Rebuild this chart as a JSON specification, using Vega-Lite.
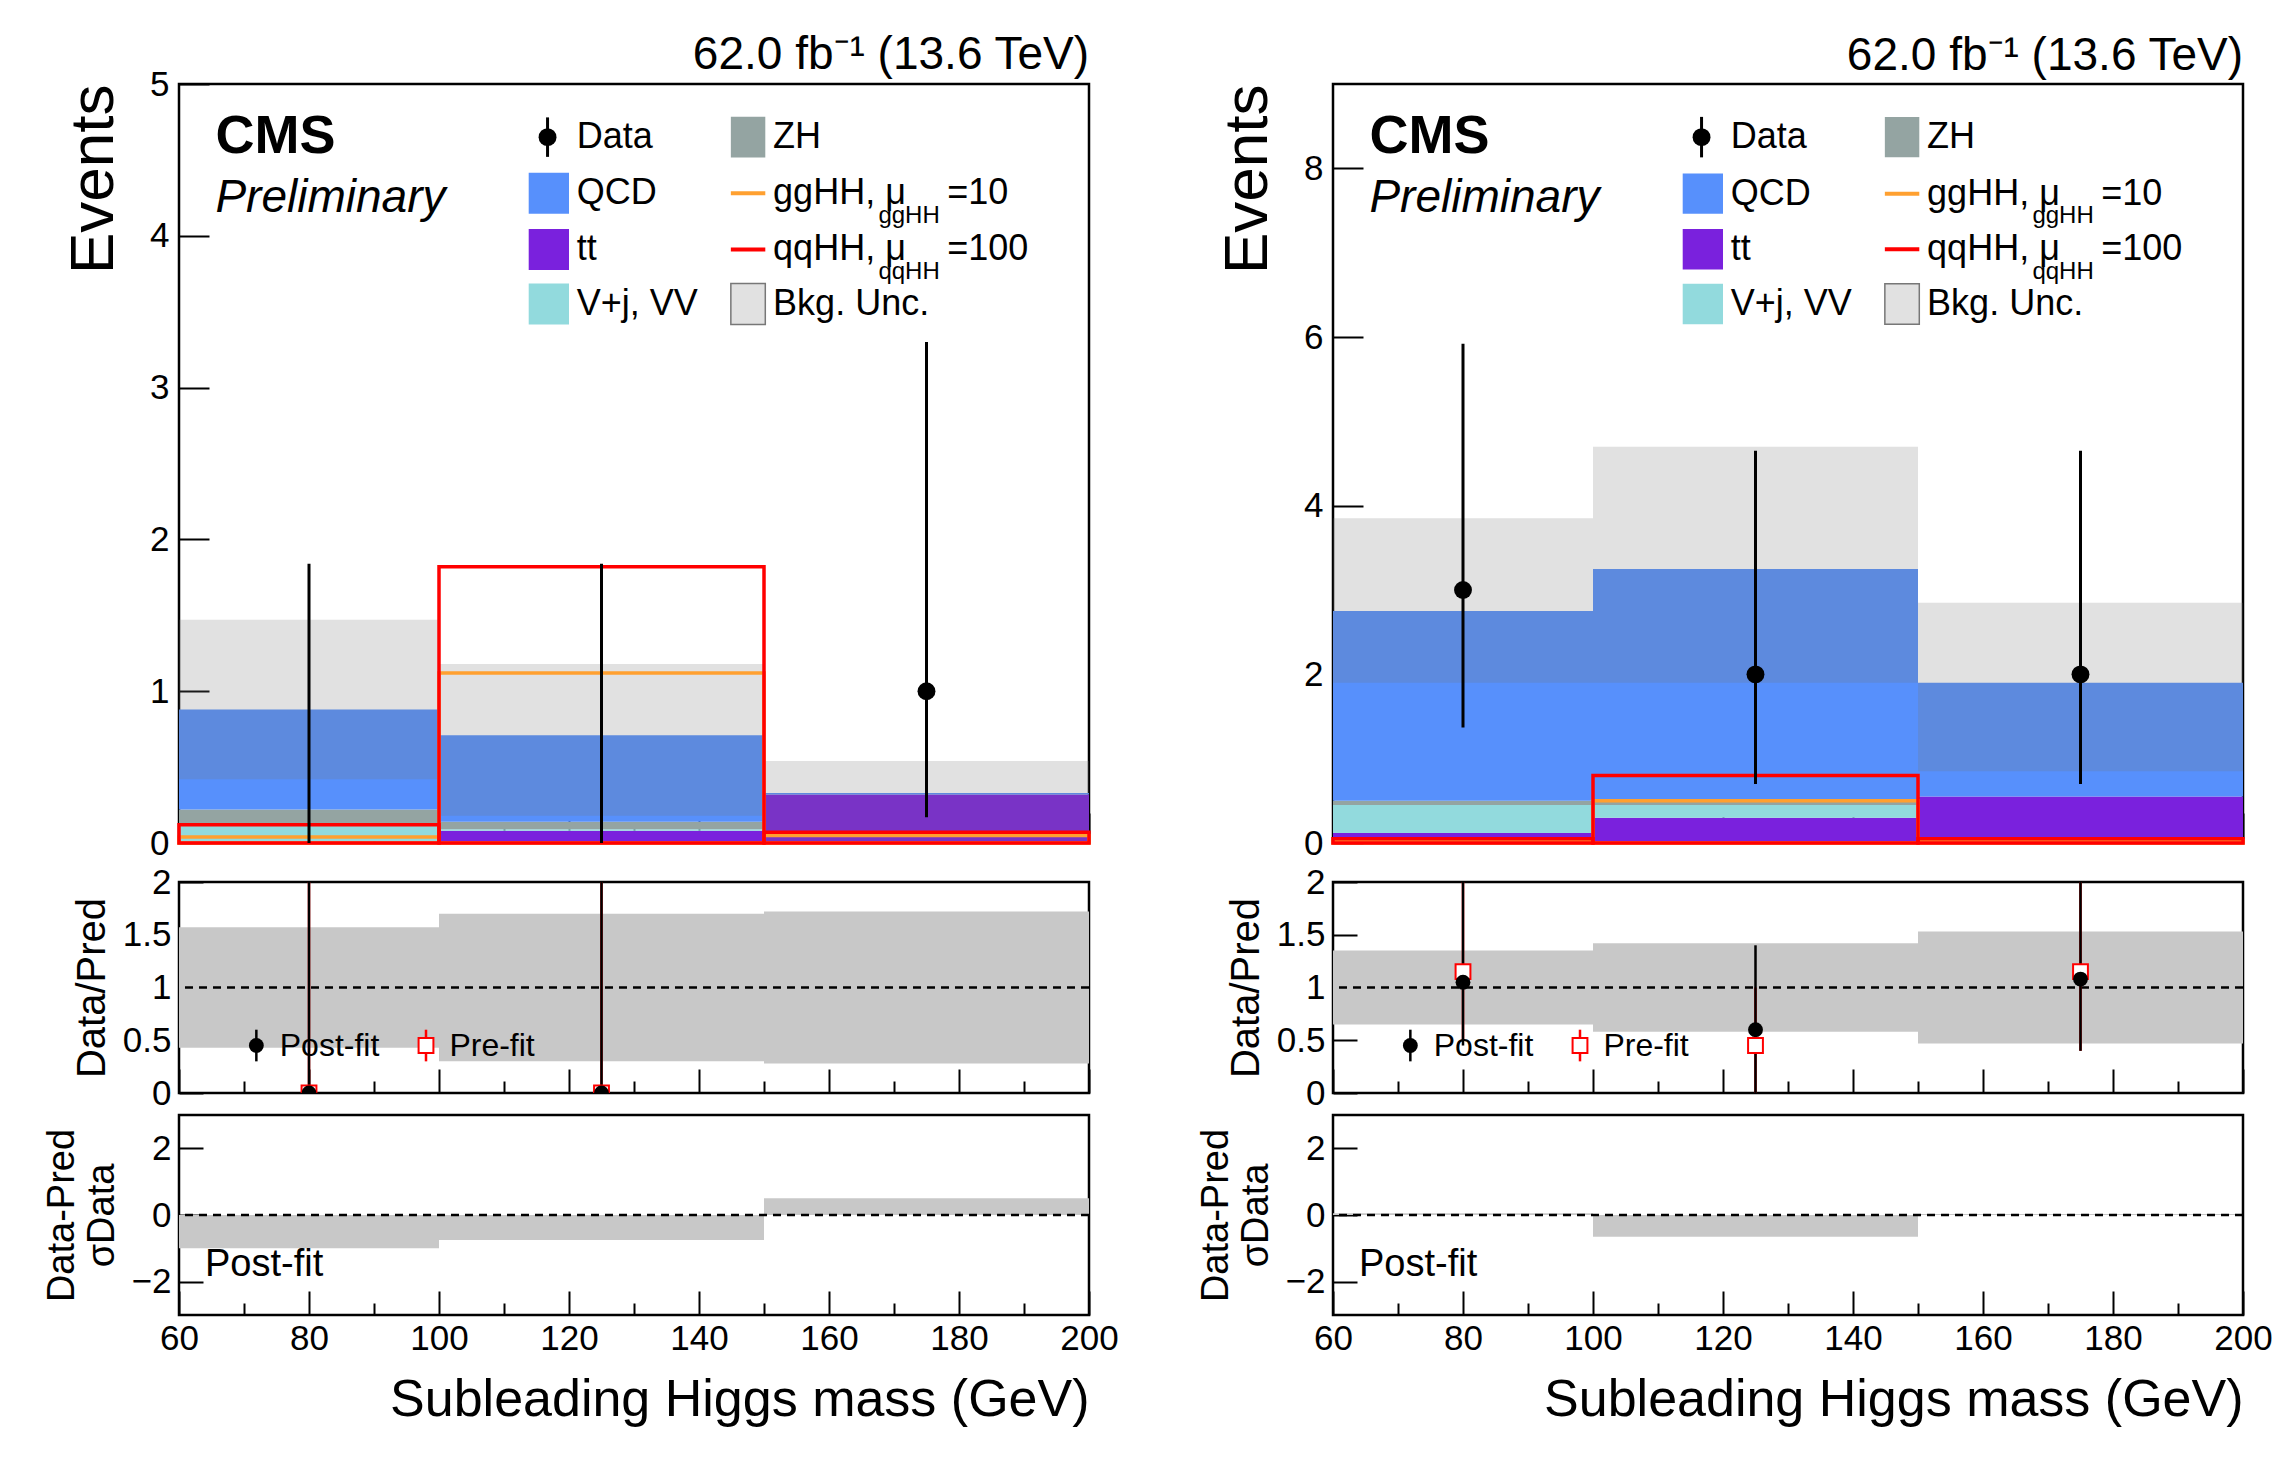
{
  "$schema": "https://vega.github.io/schema/vega-lite/v6.json",
  "background": "white",
  "padding": {"left": 41, "top": 30, "right": 20, "bottom": 5},
  "spacing": 75,
  "config": {
    "font": "Liberation Sans",
    "view": {"stroke": "black", "strokeWidth": 2.5},
    "axis": {"grid": false, "labelFont": "Liberation Sans", "titleFont": "Liberation Sans", "labelFontSize": 35, "labelColor": "black", "titleColor": "black", "titleFontWeight": "normal", "tickColor": "black", "tickWidth": 2, "tickSize": -16, "labelPadding": 26, "domain": false, "labelOverlap": false, "labelFlush": false, "format": "~g"},
    "title": {"font": "Liberation Sans", "fontWeight": "normal", "fontSize": 46, "anchor": "end", "frame": "group"}
  },
  "datasets": {
    "one": [{"a": 1}],
    "stack": [
      {"p": "L", "lo": 60, "hi": 100, "proc": "tt", "o": 1, "v": 0.01},
      {"p": "L", "lo": 60, "hi": 100, "proc": "V+j, VV", "o": 2, "v": 0.11},
      {"p": "L", "lo": 60, "hi": 100, "proc": "ZH", "o": 3, "v": 0.1},
      {"p": "L", "lo": 60, "hi": 100, "proc": "QCD", "o": 4, "v": 0.66},
      {"p": "L", "lo": 100, "hi": 150, "proc": "tt", "o": 1, "v": 0.08},
      {"p": "L", "lo": 100, "hi": 150, "proc": "V+j, VV", "o": 2, "v": 0.01},
      {"p": "L", "lo": 100, "hi": 150, "proc": "ZH", "o": 3, "v": 0.05},
      {"p": "L", "lo": 100, "hi": 150, "proc": "QCD", "o": 4, "v": 0.57},
      {"p": "L", "lo": 150, "hi": 200, "proc": "tt", "o": 1, "v": 0.32},
      {"p": "L", "lo": 150, "hi": 200, "proc": "QCD", "o": 4, "v": 0.01},
      {"p": "R", "lo": 60, "hi": 100, "proc": "tt", "o": 1, "v": 0.12},
      {"p": "R", "lo": 60, "hi": 100, "proc": "V+j, VV", "o": 2, "v": 0.33},
      {"p": "R", "lo": 60, "hi": 100, "proc": "ZH", "o": 3, "v": 0.05},
      {"p": "R", "lo": 60, "hi": 100, "proc": "QCD", "o": 4, "v": 2.25},
      {"p": "R", "lo": 100, "hi": 150, "proc": "tt", "o": 1, "v": 0.3},
      {"p": "R", "lo": 100, "hi": 150, "proc": "V+j, VV", "o": 2, "v": 0.15},
      {"p": "R", "lo": 100, "hi": 150, "proc": "ZH", "o": 3, "v": 0.05},
      {"p": "R", "lo": 100, "hi": 150, "proc": "QCD", "o": 4, "v": 2.75},
      {"p": "R", "lo": 150, "hi": 200, "proc": "tt", "o": 1, "v": 0.55},
      {"p": "R", "lo": 150, "hi": 200, "proc": "QCD", "o": 4, "v": 1.35}
    ],
    "unc": [
      {"p": "L", "lo": 60, "hi": 100, "d": 0.42, "u": 1.47},
      {"p": "L", "lo": 100, "hi": 150, "d": 0.18, "u": 1.18},
      {"p": "L", "lo": 150, "hi": 200, "d": 0.0, "u": 0.54},
      {"p": "R", "lo": 60, "hi": 100, "d": 1.9, "u": 3.85},
      {"p": "R", "lo": 100, "hi": 150, "d": 1.9, "u": 4.7},
      {"p": "R", "lo": 150, "hi": 200, "d": 0.85, "u": 2.85}
    ],
    "sig": [
      {"p": "L", "s": "gg", "lo": 60, "hi": 100, "v": 0.04},
      {"p": "L", "s": "gg", "lo": 100, "hi": 150, "v": 1.12},
      {"p": "L", "s": "gg", "lo": 150, "hi": 200, "v": 0.05},
      {"p": "L", "s": "qq", "lo": 60, "hi": 100, "v": 0.12},
      {"p": "L", "s": "qq", "lo": 100, "hi": 150, "v": 1.82},
      {"p": "L", "s": "qq", "lo": 150, "hi": 200, "v": 0.07},
      {"p": "R", "s": "gg", "lo": 60, "hi": 100, "v": 0.03},
      {"p": "R", "s": "gg", "lo": 100, "hi": 150, "v": 0.5},
      {"p": "R", "s": "gg", "lo": 150, "hi": 200, "v": 0.03},
      {"p": "R", "s": "qq", "lo": 60, "hi": 100, "v": 0.05},
      {"p": "R", "s": "qq", "lo": 100, "hi": 150, "v": 0.8},
      {"p": "R", "s": "qq", "lo": 150, "hi": 200, "v": 0.05}
    ],
    "obs": [
      {"p": "L", "x": 80, "y": 0, "lo": 0, "hi": 1.84},
      {"p": "L", "x": 125, "y": 0, "lo": 0, "hi": 1.84},
      {"p": "L", "x": 175, "y": 1, "lo": 0.17, "hi": 3.3},
      {"p": "R", "x": 80, "y": 3, "lo": 1.37, "hi": 5.92},
      {"p": "R", "x": 125, "y": 2, "lo": 0.7, "hi": 4.65},
      {"p": "R", "x": 175, "y": 2, "lo": 0.7, "hi": 4.65}
    ],
    "legsw": [
      {"p": "L", "x": 113.8, "x2": 120, "y": 4.145, "y2": 4.415, "proc": "QCD"},
      {"p": "L", "x": 113.8, "x2": 120, "y": 3.775, "y2": 4.045, "proc": "tt"},
      {"p": "L", "x": 113.8, "x2": 120, "y": 3.415, "y2": 3.685, "proc": "V+j, VV"},
      {"p": "L", "x": 144.9, "x2": 150.2, "y": 4.515, "y2": 4.785, "proc": "ZH"},
      {"p": "R", "x": 113.8, "x2": 120, "y": 7.46, "y2": 7.94, "proc": "QCD"},
      {"p": "R", "x": 113.8, "x2": 120, "y": 6.8, "y2": 7.28, "proc": "tt"},
      {"p": "R", "x": 113.8, "x2": 120, "y": 6.15, "y2": 6.63, "proc": "V+j, VV"},
      {"p": "R", "x": 144.9, "x2": 150.2, "y": 8.13, "y2": 8.61, "proc": "ZH"}
    ],
    "leghatch": [
      {"p": "L", "x": 144.9, "x2": 150.2, "y": 3.415, "y2": 3.685},
      {"p": "R", "x": 144.9, "x2": 150.2, "y": 6.15, "y2": 6.63}
    ],
    "legln": [
      {"p": "L", "s": "gg", "x": 144.9, "x2": 150.2, "y": 4.28},
      {"p": "L", "s": "qq", "x": 144.9, "x2": 150.2, "y": 3.91},
      {"p": "R", "s": "gg", "x": 144.9, "x2": 150.2, "y": 7.7},
      {"p": "R", "s": "qq", "x": 144.9, "x2": 150.2, "y": 7.04}
    ],
    "legdot": [
      {"p": "L", "x": 116.7, "y": 4.65, "lo": 4.52, "hi": 4.78},
      {"p": "R", "x": 116.7, "y": 8.37, "lo": 8.13, "hi": 8.61}
    ],
    "legtx": [
      {"p": "L", "x": 121.2, "y": 4.65, "t": "Data"},
      {"p": "L", "x": 121.2, "y": 4.28, "t": "QCD"},
      {"p": "L", "x": 121.2, "y": 3.91, "t": "tt"},
      {"p": "L", "x": 121.2, "y": 3.55, "t": "V+j, VV"},
      {"p": "L", "x": 151.4, "y": 4.65, "t": "ZH"},
      {"p": "L", "x": 151.4, "y": 4.28, "t": "ggHH, μ"},
      {"p": "L", "x": 151.4, "y": 3.91, "t": "qqHH, μ"},
      {"p": "L", "x": 151.4, "y": 3.55, "t": "Bkg. Unc."},
      {"p": "L", "x": 178.2, "y": 4.28, "t": "=10"},
      {"p": "L", "x": 178.2, "y": 3.91, "t": "=100"},
      {"p": "R", "x": 121.2, "y": 8.37, "t": "Data"},
      {"p": "R", "x": 121.2, "y": 7.7, "t": "QCD"},
      {"p": "R", "x": 121.2, "y": 7.04, "t": "tt"},
      {"p": "R", "x": 121.2, "y": 6.39, "t": "V+j, VV"},
      {"p": "R", "x": 151.4, "y": 8.37, "t": "ZH"},
      {"p": "R", "x": 151.4, "y": 7.7, "t": "ggHH, μ"},
      {"p": "R", "x": 151.4, "y": 7.04, "t": "qqHH, μ"},
      {"p": "R", "x": 151.4, "y": 6.39, "t": "Bkg. Unc."},
      {"p": "R", "x": 178.2, "y": 7.7, "t": "=10"},
      {"p": "R", "x": 178.2, "y": 7.04, "t": "=100"}
    ],
    "legsub": [
      {"p": "L", "x": 167.6, "y": 4.13, "t": "ggHH"},
      {"p": "L", "x": 167.6, "y": 3.76, "t": "qqHH"},
      {"p": "R", "x": 167.6, "y": 7.43, "t": "ggHH"},
      {"p": "R", "x": 167.6, "y": 6.77, "t": "qqHH"}
    ],
    "cms": [
      {"p": "L", "x": 65.6, "y": 4.65},
      {"p": "R", "x": 65.6, "y": 8.37}
    ],
    "prelim": [
      {"p": "L", "x": 65.6, "y": 4.25},
      {"p": "R", "x": 65.6, "y": 7.65}
    ],
    "rband": [
      {"p": "L", "lo": 60, "hi": 100, "d": 0.43, "u": 1.57},
      {"p": "L", "lo": 100, "hi": 150, "d": 0.3, "u": 1.7},
      {"p": "L", "lo": 150, "hi": 200, "d": 0.28, "u": 1.72},
      {"p": "R", "lo": 60, "hi": 100, "d": 0.65, "u": 1.35},
      {"p": "R", "lo": 100, "hi": 150, "d": 0.58, "u": 1.42},
      {"p": "R", "lo": 150, "hi": 200, "d": 0.47, "u": 1.53}
    ],
    "rpts": [
      {"p": "L", "fit": "Post-fit", "x": 80, "y": 0, "lo": 0, "hi": 2.2},
      {"p": "L", "fit": "Post-fit", "x": 125, "y": 0, "lo": 0, "hi": 2.2},
      {"p": "L", "fit": "Pre-fit", "x": 80, "y": 0, "lo": 0, "hi": 2.2},
      {"p": "L", "fit": "Pre-fit", "x": 125, "y": 0, "lo": 0, "hi": 2.2},
      {"p": "R", "fit": "Pre-fit", "x": 80, "y": 1.15, "lo": 0.5, "hi": 2.2},
      {"p": "R", "fit": "Pre-fit", "x": 125, "y": 0.45, "lo": 0, "hi": 1.0},
      {"p": "R", "fit": "Pre-fit", "x": 175, "y": 1.15, "lo": 0.4, "hi": 2.2},
      {"p": "R", "fit": "Post-fit", "x": 80, "y": 1.05, "lo": 0.45, "hi": 2.2},
      {"p": "R", "fit": "Post-fit", "x": 125, "y": 0.6, "lo": 0, "hi": 1.4},
      {"p": "R", "fit": "Post-fit", "x": 175, "y": 1.08, "lo": 0.4, "hi": 2.2}
    ],
    "rleg": [
      {"fit": "Post-fit", "x": 71.9, "y": 0.45, "lo": 0.3, "hi": 0.6, "tx": 75.5},
      {"fit": "Pre-fit", "x": 98, "y": 0.45, "lo": 0.3, "hi": 0.6, "tx": 101.6}
    ],
    "pull": [
      {"p": "L", "lo": 60, "hi": 100, "v": -1.0},
      {"p": "L", "lo": 100, "hi": 150, "v": -0.75},
      {"p": "L", "lo": 150, "hi": 200, "v": 0.5},
      {"p": "R", "lo": 60, "hi": 100, "v": 0.05},
      {"p": "R", "lo": 100, "hi": 150, "v": -0.65},
      {"p": "R", "lo": 150, "hi": 200, "v": 0.03}
    ]
  },
  "hconcat": [
    {
      "spacing": 0,
      "vconcat": [
        {
          "width": 910, "height": 759,
          "title": {"text": "62.0 fb⁻¹ (13.6 TeV)", "offset": -12},
          "layer": [
            {"data": {"name": "stack"}, "transform": [{"filter": "datum.p == 'L'"}, {"stack": "v", "groupby": ["lo"], "sort": [{"field": "o"}], "as": ["y0", "y1"]}], "mark": {"type": "rect"},
             "encoding": {
               "x": {"field": "lo", "type": "quantitative", "scale": {"domain": [60, 200]}, "axis": {"labels": false, "labelPadding": 0, "title": null, "values": [60,70,80,90,100,110,120,130,140,150,160,170,180,190,200], "tickSize": {"condition": {"test": "datum.value % 20 == 0", "value": -30}, "value": -15}}},
               "x2": {"field": "hi"},
               "y": {"field": "y0", "type": "quantitative", "scale": {"domain": [0, 5]}, "axis": {"title": "Events", "titleFontSize": 62, "titleAnchor": "end", "titlePadding": 24, "values": [0,1,2,3,4,5], "tickSize": -30, "labelPadding": 40}},
               "y2": {"field": "y1"},
               "color": {"field": "proc", "type": "nominal", "scale": {"domain": ["QCD", "tt", "V+j, VV", "ZH"], "range": ["#5790fc", "#7a21dd", "#92dadd", "#94a4a2"]}, "legend": null}
             }},
            {"data": {"name": "unc"}, "transform": [{"filter": "datum.p == 'L'"}], "mark": {"type": "rect", "fill": "#777", "opacity": 0.22},
             "encoding": {"x": {"field": "lo", "type": "quantitative"}, "x2": {"field": "hi"}, "y": {"field": "d", "type": "quantitative"}, "y2": {"field": "u"}}},
            {"data": {"name": "sig"}, "transform": [{"filter": "datum.p == 'L'"}], "mark": {"type": "rect", "fillOpacity": 0, "strokeWidth": 3.5},
             "encoding": {"x": {"field": "lo", "type": "quantitative"}, "x2": {"field": "hi"}, "y": {"field": "v", "type": "quantitative"}, "y2": {"datum": 0},
               "stroke": {"field": "s", "type": "nominal", "scale": {"domain": ["gg", "qq"], "range": ["#ffa030", "#ff0000"]}, "legend": null}}},
            {"data": {"name": "obs"}, "transform": [{"filter": "datum.p == 'L'"}], "mark": {"type": "rule", "strokeWidth": 3, "color": "black"},
             "encoding": {"x": {"field": "x", "type": "quantitative"}, "y": {"field": "lo", "type": "quantitative"}, "y2": {"field": "hi"}}},
            {"data": {"name": "obs"}, "transform": [{"filter": "datum.p == 'L' && datum.y > 0"}], "mark": {"type": "point", "filled": true, "shape": "circle", "size": 320, "color": "black", "opacity": 1},
             "encoding": {"x": {"field": "x", "type": "quantitative"}, "y": {"field": "y", "type": "quantitative"}}},
            {"data": {"name": "legsw"}, "transform": [{"filter": "datum.p == 'L'"}], "mark": {"type": "rect"},
             "encoding": {"x": {"field": "x", "type": "quantitative"}, "x2": {"field": "x2"}, "y": {"field": "y", "type": "quantitative"}, "y2": {"field": "y2"}, "color": {"field": "proc", "type": "nominal", "legend": null}}},
            {"data": {"name": "leghatch"}, "transform": [{"filter": "datum.p == 'L'"}], "mark": {"type": "rect", "fill": "#777", "fillOpacity": 0.22, "stroke": "#777", "strokeWidth": 1.5},
             "encoding": {"x": {"field": "x", "type": "quantitative"}, "x2": {"field": "x2"}, "y": {"field": "y", "type": "quantitative"}, "y2": {"field": "y2"}}},
            {"data": {"name": "legln"}, "transform": [{"filter": "datum.p == 'L'"}], "mark": {"type": "rule", "strokeWidth": 4},
             "encoding": {"x": {"field": "x", "type": "quantitative"}, "x2": {"field": "x2"}, "y": {"field": "y", "type": "quantitative"}, "stroke": {"field": "s", "type": "nominal", "legend": null}}},
            {"data": {"name": "legdot"}, "transform": [{"filter": "datum.p == 'L'"}], "mark": {"type": "rule", "strokeWidth": 3, "color": "black"},
             "encoding": {"x": {"field": "x", "type": "quantitative"}, "y": {"field": "lo", "type": "quantitative"}, "y2": {"field": "hi"}}},
            {"data": {"name": "legdot"}, "transform": [{"filter": "datum.p == 'L'"}], "mark": {"type": "point", "filled": true, "size": 320, "color": "black", "opacity": 1},
             "encoding": {"x": {"field": "x", "type": "quantitative"}, "y": {"field": "y", "type": "quantitative"}}},
            {"data": {"name": "legtx"}, "transform": [{"filter": "datum.p == 'L'"}], "mark": {"type": "text", "align": "left", "baseline": "middle", "fontSize": 36},
             "encoding": {"x": {"field": "x", "type": "quantitative"}, "y": {"field": "y", "type": "quantitative"}, "text": {"field": "t", "type": "nominal"}}},
            {"data": {"name": "legsub"}, "transform": [{"filter": "datum.p == 'L'"}], "mark": {"type": "text", "align": "left", "baseline": "middle", "fontSize": 24},
             "encoding": {"x": {"field": "x", "type": "quantitative"}, "y": {"field": "y", "type": "quantitative"}, "text": {"field": "t", "type": "nominal"}}},
            {"data": {"name": "cms"}, "transform": [{"filter": "datum.p == 'L'"}], "mark": {"type": "text", "align": "left", "baseline": "middle", "fontSize": 54, "fontWeight": "bold", "text": "CMS"},
             "encoding": {"x": {"field": "x", "type": "quantitative"}, "y": {"field": "y", "type": "quantitative"}}},
            {"data": {"name": "prelim"}, "transform": [{"filter": "datum.p == 'L'"}], "mark": {"type": "text", "align": "left", "baseline": "middle", "fontSize": 46, "fontStyle": "italic", "text": "Preliminary"},
             "encoding": {"x": {"field": "x", "type": "quantitative"}, "y": {"field": "y", "type": "quantitative"}}}
          ]
        },
        {
          "width": 910, "height": 211,
          "layer": [
            {"data": {"name": "rband"}, "transform": [{"filter": "datum.p == 'L'"}], "mark": {"type": "rect", "color": "#c8c8c8"},
             "encoding": {"x": {"field": "lo", "type": "quantitative", "scale": {"domain": [60, 200]}, "axis": {"labels": false, "labelPadding": 0, "title": null, "values": [60,70,80,90,100,110,120,130,140,150,160,170,180,190,200], "tickSize": {"condition": {"test": "datum.value % 20 == 0", "value": -24}, "value": -12}}}, "x2": {"field": "hi"},
               "y": {"field": "d", "type": "quantitative", "scale": {"domain": [0, 2]}, "axis": {"title": "Data/Pred", "titleFontSize": 40, "titlePadding": 10, "values": [0,0.5,1,1.5,2], "tickSize": -24, "labelPadding": 32}}, "y2": {"field": "u"}}},
            {"data": {"name": "one"}, "mark": {"type": "rule", "strokeDash": [8, 6], "strokeWidth": 2.5, "color": "black"}, "encoding": {"y": {"datum": 1, "type": "quantitative"}}},
            {"data": {"name": "rpts"}, "transform": [{"filter": "datum.p == 'L' && datum.fit == 'Pre-fit'"}], "mark": {"type": "rule", "strokeWidth": 2.5, "clip": true, "color": "#ff0000"},
             "encoding": {"x": {"field": "x", "type": "quantitative"}, "y": {"field": "lo", "type": "quantitative"}, "y2": {"field": "hi"}}},
            {"data": {"name": "rpts"}, "transform": [{"filter": "datum.p == 'L' && datum.fit == 'Post-fit'"}], "mark": {"type": "rule", "strokeWidth": 2.5, "clip": true, "color": "black"},
             "encoding": {"x": {"field": "x", "type": "quantitative"}, "y": {"field": "lo", "type": "quantitative"}, "y2": {"field": "hi"}}},
            {"data": {"name": "rpts"}, "transform": [{"filter": "datum.p == 'L' && datum.fit == 'Pre-fit'"}], "mark": {"type": "point", "shape": "square", "size": 220, "color": "#ff0000", "fill": "white", "filled": false, "strokeWidth": 2, "opacity": 1, "clip": true},
             "encoding": {"x": {"field": "x", "type": "quantitative"}, "y": {"field": "y", "type": "quantitative"}}},
            {"data": {"name": "rpts"}, "transform": [{"filter": "datum.p == 'L' && datum.fit == 'Post-fit'"}], "mark": {"type": "point", "filled": true, "size": 220, "color": "black", "opacity": 1, "clip": true},
             "encoding": {"x": {"field": "x", "type": "quantitative"}, "y": {"field": "y", "type": "quantitative"}}},
            {"data": {"name": "rleg"}, "transform": [{"filter": "datum.fit == 'Pre-fit'"}], "mark": {"type": "rule", "strokeWidth": 2.5, "color": "#ff0000"},
             "encoding": {"x": {"field": "x", "type": "quantitative"}, "y": {"field": "lo", "type": "quantitative"}, "y2": {"field": "hi"}}},
            {"data": {"name": "rleg"}, "transform": [{"filter": "datum.fit == 'Post-fit'"}], "mark": {"type": "rule", "strokeWidth": 2.5, "color": "black"},
             "encoding": {"x": {"field": "x", "type": "quantitative"}, "y": {"field": "lo", "type": "quantitative"}, "y2": {"field": "hi"}}},
            {"data": {"name": "rleg"}, "transform": [{"filter": "datum.fit == 'Pre-fit'"}], "mark": {"type": "point", "shape": "square", "size": 220, "color": "#ff0000", "fill": "white", "filled": false, "strokeWidth": 2, "opacity": 1},
             "encoding": {"x": {"field": "x", "type": "quantitative"}, "y": {"field": "y", "type": "quantitative"}}},
            {"data": {"name": "rleg"}, "transform": [{"filter": "datum.fit == 'Post-fit'"}], "mark": {"type": "point", "filled": true, "size": 220, "color": "black", "opacity": 1},
             "encoding": {"x": {"field": "x", "type": "quantitative"}, "y": {"field": "y", "type": "quantitative"}}},
            {"data": {"name": "rleg"}, "mark": {"type": "text", "align": "left", "baseline": "middle", "fontSize": 32},
             "encoding": {"x": {"field": "tx", "type": "quantitative"}, "y": {"field": "y", "type": "quantitative"}, "text": {"field": "fit", "type": "nominal"}}}
          ]
        },
        {
          "width": 910, "height": 200,
          "layer": [
            {"data": {"name": "pull"}, "transform": [{"filter": "datum.p == 'L'"}], "mark": {"type": "rect", "color": "#c8c8c8"},
             "encoding": {"x": {"field": "lo", "type": "quantitative", "scale": {"domain": [60, 200]}, "axis": {"title": "Subleading Higgs mass (GeV)", "titleFontSize": 52, "titleAnchor": "end", "titlePadding": 6, "labelPadding": 30, "values": [60,70,80,90,100,110,120,130,140,150,160,170,180,190,200], "labelExpr": "datum.value % 20 == 0 ? datum.label : ''", "tickSize": {"condition": {"test": "datum.value % 20 == 0", "value": -24}, "value": -12}}}, "x2": {"field": "hi"},
               "y": {"field": "v", "type": "quantitative", "scale": {"domain": [-3, 3]}, "axis": {"title": ["Data-Pred", "σData"], "titleFontSize": 38, "titlePadding": 10, "values": [-2,0,2], "tickSize": -24, "labelPadding": 32}}, "y2": {"datum": 0}}},
            {"data": {"name": "one"}, "mark": {"type": "rule", "strokeDash": [8, 6], "strokeWidth": 2.5, "color": "black"}, "encoding": {"y": {"datum": 0, "type": "quantitative"}}},
            {"data": {"name": "one"}, "mark": {"type": "text", "align": "left", "baseline": "middle", "fontSize": 38, "text": "Post-fit"}, "encoding": {"x": {"datum": 64, "type": "quantitative"}, "y": {"datum": -1.5, "type": "quantitative"}}}
          ]
        }
      ]
    },
    {
      "spacing": 0,
      "vconcat": [
        {
          "width": 910, "height": 759,
          "title": {"text": "62.0 fb⁻¹ (13.6 TeV)", "offset": 4},
          "layer": [
            {"data": {"name": "stack"}, "transform": [{"filter": "datum.p == 'R'"}, {"stack": "v", "groupby": ["lo"], "sort": [{"field": "o"}], "as": ["y0", "y1"]}], "mark": {"type": "rect"},
             "encoding": {
               "x": {"field": "lo", "type": "quantitative", "scale": {"domain": [60, 200]}, "axis": {"labels": false, "labelPadding": 0, "title": null, "values": [60,70,80,90,100,110,120,130,140,150,160,170,180,190,200], "tickSize": {"condition": {"test": "datum.value % 20 == 0", "value": -30}, "value": -15}}},
               "x2": {"field": "hi"},
               "y": {"field": "y0", "type": "quantitative", "scale": {"domain": [0, 9]}, "axis": {"title": "Events", "titleFontSize": 62, "titleAnchor": "end", "titlePadding": 24, "values": [0,2,4,6,8], "tickSize": -30, "labelPadding": 40}},
               "y2": {"field": "y1"},
               "color": {"field": "proc", "type": "nominal", "scale": {"domain": ["QCD", "tt", "V+j, VV", "ZH"], "range": ["#5790fc", "#7a21dd", "#92dadd", "#94a4a2"]}, "legend": null}
             }},
            {"data": {"name": "unc"}, "transform": [{"filter": "datum.p == 'R'"}], "mark": {"type": "rect", "fill": "#777", "opacity": 0.22},
             "encoding": {"x": {"field": "lo", "type": "quantitative"}, "x2": {"field": "hi"}, "y": {"field": "d", "type": "quantitative"}, "y2": {"field": "u"}}},
            {"data": {"name": "sig"}, "transform": [{"filter": "datum.p == 'R'"}], "mark": {"type": "rect", "fillOpacity": 0, "strokeWidth": 3.5},
             "encoding": {"x": {"field": "lo", "type": "quantitative"}, "x2": {"field": "hi"}, "y": {"field": "v", "type": "quantitative"}, "y2": {"datum": 0},
               "stroke": {"field": "s", "type": "nominal", "scale": {"domain": ["gg", "qq"], "range": ["#ffa030", "#ff0000"]}, "legend": null}}},
            {"data": {"name": "obs"}, "transform": [{"filter": "datum.p == 'R'"}], "mark": {"type": "rule", "strokeWidth": 3, "color": "black"},
             "encoding": {"x": {"field": "x", "type": "quantitative"}, "y": {"field": "lo", "type": "quantitative"}, "y2": {"field": "hi"}}},
            {"data": {"name": "obs"}, "transform": [{"filter": "datum.p == 'R' && datum.y > 0"}], "mark": {"type": "point", "filled": true, "shape": "circle", "size": 320, "color": "black", "opacity": 1},
             "encoding": {"x": {"field": "x", "type": "quantitative"}, "y": {"field": "y", "type": "quantitative"}}},
            {"data": {"name": "legsw"}, "transform": [{"filter": "datum.p == 'R'"}], "mark": {"type": "rect"},
             "encoding": {"x": {"field": "x", "type": "quantitative"}, "x2": {"field": "x2"}, "y": {"field": "y", "type": "quantitative"}, "y2": {"field": "y2"}, "color": {"field": "proc", "type": "nominal", "legend": null}}},
            {"data": {"name": "leghatch"}, "transform": [{"filter": "datum.p == 'R'"}], "mark": {"type": "rect", "fill": "#777", "fillOpacity": 0.22, "stroke": "#777", "strokeWidth": 1.5},
             "encoding": {"x": {"field": "x", "type": "quantitative"}, "x2": {"field": "x2"}, "y": {"field": "y", "type": "quantitative"}, "y2": {"field": "y2"}}},
            {"data": {"name": "legln"}, "transform": [{"filter": "datum.p == 'R'"}], "mark": {"type": "rule", "strokeWidth": 4},
             "encoding": {"x": {"field": "x", "type": "quantitative"}, "x2": {"field": "x2"}, "y": {"field": "y", "type": "quantitative"}, "stroke": {"field": "s", "type": "nominal", "legend": null}}},
            {"data": {"name": "legdot"}, "transform": [{"filter": "datum.p == 'R'"}], "mark": {"type": "rule", "strokeWidth": 3, "color": "black"},
             "encoding": {"x": {"field": "x", "type": "quantitative"}, "y": {"field": "lo", "type": "quantitative"}, "y2": {"field": "hi"}}},
            {"data": {"name": "legdot"}, "transform": [{"filter": "datum.p == 'R'"}], "mark": {"type": "point", "filled": true, "size": 320, "color": "black", "opacity": 1},
             "encoding": {"x": {"field": "x", "type": "quantitative"}, "y": {"field": "y", "type": "quantitative"}}},
            {"data": {"name": "legtx"}, "transform": [{"filter": "datum.p == 'R'"}], "mark": {"type": "text", "align": "left", "baseline": "middle", "fontSize": 36},
             "encoding": {"x": {"field": "x", "type": "quantitative"}, "y": {"field": "y", "type": "quantitative"}, "text": {"field": "t", "type": "nominal"}}},
            {"data": {"name": "legsub"}, "transform": [{"filter": "datum.p == 'R'"}], "mark": {"type": "text", "align": "left", "baseline": "middle", "fontSize": 24},
             "encoding": {"x": {"field": "x", "type": "quantitative"}, "y": {"field": "y", "type": "quantitative"}, "text": {"field": "t", "type": "nominal"}}},
            {"data": {"name": "cms"}, "transform": [{"filter": "datum.p == 'R'"}], "mark": {"type": "text", "align": "left", "baseline": "middle", "fontSize": 54, "fontWeight": "bold", "text": "CMS"},
             "encoding": {"x": {"field": "x", "type": "quantitative"}, "y": {"field": "y", "type": "quantitative"}}},
            {"data": {"name": "prelim"}, "transform": [{"filter": "datum.p == 'R'"}], "mark": {"type": "text", "align": "left", "baseline": "middle", "fontSize": 46, "fontStyle": "italic", "text": "Preliminary"},
             "encoding": {"x": {"field": "x", "type": "quantitative"}, "y": {"field": "y", "type": "quantitative"}}}
          ]
        },
        {
          "width": 910, "height": 211,
          "layer": [
            {"data": {"name": "rband"}, "transform": [{"filter": "datum.p == 'R'"}], "mark": {"type": "rect", "color": "#c8c8c8"},
             "encoding": {"x": {"field": "lo", "type": "quantitative", "scale": {"domain": [60, 200]}, "axis": {"labels": false, "labelPadding": 0, "title": null, "values": [60,70,80,90,100,110,120,130,140,150,160,170,180,190,200], "tickSize": {"condition": {"test": "datum.value % 20 == 0", "value": -24}, "value": -12}}}, "x2": {"field": "hi"},
               "y": {"field": "d", "type": "quantitative", "scale": {"domain": [0, 2]}, "axis": {"title": "Data/Pred", "titleFontSize": 40, "titlePadding": 10, "values": [0,0.5,1,1.5,2], "tickSize": -24, "labelPadding": 32}}, "y2": {"field": "u"}}},
            {"data": {"name": "one"}, "mark": {"type": "rule", "strokeDash": [8, 6], "strokeWidth": 2.5, "color": "black"}, "encoding": {"y": {"datum": 1, "type": "quantitative"}}},
            {"data": {"name": "rpts"}, "transform": [{"filter": "datum.p == 'R' && datum.fit == 'Pre-fit'"}], "mark": {"type": "rule", "strokeWidth": 2.5, "clip": true, "color": "#ff0000"},
             "encoding": {"x": {"field": "x", "type": "quantitative"}, "y": {"field": "lo", "type": "quantitative"}, "y2": {"field": "hi"}}},
            {"data": {"name": "rpts"}, "transform": [{"filter": "datum.p == 'R' && datum.fit == 'Post-fit'"}], "mark": {"type": "rule", "strokeWidth": 2.5, "clip": true, "color": "black"},
             "encoding": {"x": {"field": "x", "type": "quantitative"}, "y": {"field": "lo", "type": "quantitative"}, "y2": {"field": "hi"}}},
            {"data": {"name": "rpts"}, "transform": [{"filter": "datum.p == 'R' && datum.fit == 'Pre-fit'"}], "mark": {"type": "point", "shape": "square", "size": 220, "color": "#ff0000", "fill": "white", "filled": false, "strokeWidth": 2, "opacity": 1, "clip": true},
             "encoding": {"x": {"field": "x", "type": "quantitative"}, "y": {"field": "y", "type": "quantitative"}}},
            {"data": {"name": "rpts"}, "transform": [{"filter": "datum.p == 'R' && datum.fit == 'Post-fit'"}], "mark": {"type": "point", "filled": true, "size": 220, "color": "black", "opacity": 1, "clip": true},
             "encoding": {"x": {"field": "x", "type": "quantitative"}, "y": {"field": "y", "type": "quantitative"}}},
            {"data": {"name": "rleg"}, "transform": [{"filter": "datum.fit == 'Pre-fit'"}], "mark": {"type": "rule", "strokeWidth": 2.5, "color": "#ff0000"},
             "encoding": {"x": {"field": "x", "type": "quantitative"}, "y": {"field": "lo", "type": "quantitative"}, "y2": {"field": "hi"}}},
            {"data": {"name": "rleg"}, "transform": [{"filter": "datum.fit == 'Post-fit'"}], "mark": {"type": "rule", "strokeWidth": 2.5, "color": "black"},
             "encoding": {"x": {"field": "x", "type": "quantitative"}, "y": {"field": "lo", "type": "quantitative"}, "y2": {"field": "hi"}}},
            {"data": {"name": "rleg"}, "transform": [{"filter": "datum.fit == 'Pre-fit'"}], "mark": {"type": "point", "shape": "square", "size": 220, "color": "#ff0000", "fill": "white", "filled": false, "strokeWidth": 2, "opacity": 1},
             "encoding": {"x": {"field": "x", "type": "quantitative"}, "y": {"field": "y", "type": "quantitative"}}},
            {"data": {"name": "rleg"}, "transform": [{"filter": "datum.fit == 'Post-fit'"}], "mark": {"type": "point", "filled": true, "size": 220, "color": "black", "opacity": 1},
             "encoding": {"x": {"field": "x", "type": "quantitative"}, "y": {"field": "y", "type": "quantitative"}}},
            {"data": {"name": "rleg"}, "mark": {"type": "text", "align": "left", "baseline": "middle", "fontSize": 32},
             "encoding": {"x": {"field": "tx", "type": "quantitative"}, "y": {"field": "y", "type": "quantitative"}, "text": {"field": "fit", "type": "nominal"}}}
          ]
        },
        {
          "width": 910, "height": 200,
          "layer": [
            {"data": {"name": "pull"}, "transform": [{"filter": "datum.p == 'R'"}], "mark": {"type": "rect", "color": "#c8c8c8"},
             "encoding": {"x": {"field": "lo", "type": "quantitative", "scale": {"domain": [60, 200]}, "axis": {"title": "Subleading Higgs mass (GeV)", "titleFontSize": 52, "titleAnchor": "end", "titlePadding": 6, "labelPadding": 30, "values": [60,70,80,90,100,110,120,130,140,150,160,170,180,190,200], "labelExpr": "datum.value % 20 == 0 ? datum.label : ''", "tickSize": {"condition": {"test": "datum.value % 20 == 0", "value": -24}, "value": -12}}}, "x2": {"field": "hi"},
               "y": {"field": "v", "type": "quantitative", "scale": {"domain": [-3, 3]}, "axis": {"title": ["Data-Pred", "σData"], "titleFontSize": 38, "titlePadding": 10, "values": [-2,0,2], "tickSize": -24, "labelPadding": 32}}, "y2": {"datum": 0}}},
            {"data": {"name": "one"}, "mark": {"type": "rule", "strokeDash": [8, 6], "strokeWidth": 2.5, "color": "black"}, "encoding": {"y": {"datum": 0, "type": "quantitative"}}},
            {"data": {"name": "one"}, "mark": {"type": "text", "align": "left", "baseline": "middle", "fontSize": 38, "text": "Post-fit"}, "encoding": {"x": {"datum": 64, "type": "quantitative"}, "y": {"datum": -1.5, "type": "quantitative"}}}
          ]
        }
      ]
    }
  ]
}
